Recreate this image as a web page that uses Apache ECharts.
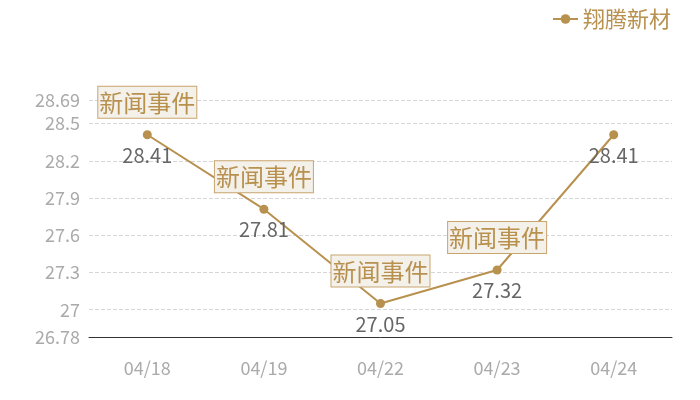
<!DOCTYPE html>
<html>
<head>
	<meta charset="utf-8">
	<title>ECharts</title>
	<script src="https://cdn.jsdelivr.net/npm/echarts@6/dist/echarts.min.js"></script>
	<style type="text/css">
		html, body { height: 100%; margin: 0; background: #fff; }
	</style>
</head>
<body>
	<div id="main" style="width: 700px;height:400px;"></div>
	<script type="text/javascript">
	// 数据
	var dates = ['04/18', '04/19', '04/22', '04/23', '04/24'];
	var prices = [28.41, 27.81, 27.05, 27.32, 28.41];
	var eventIdx = [0, 1, 2, 3];   // 有新闻事件的日期
	var yMin = 26.78;
	var yMax = 28.69;

	var gold = '#b8914f';
	var font = 'Noto Sans CJK SC';

	var eventPoints = [];
	for (var i = 0; i < eventIdx.length; i++) {
		var k = eventIdx[i];
		eventPoints.push({ coord: [dates[k], prices[k]], value: '新闻事件' });
	}

	var myChart = echarts.init(document.getElementById('main'));
	var option = {
		animation: false,
		textStyle: { fontFamily: font },
		legend: {
			data: ['翔腾新材'],
			right: 24,
			top: 3,
			itemWidth: 25,
			itemHeight: 12,
			itemGap: 6,
			textStyle: { color: gold, fontSize: 22, fontFamily: font }
		},
		grid: { left: 89, right: 28, top: 100, bottom: 63 },
		xAxis: {
			type: 'category',
			data: dates,
			axisLine: { lineStyle: { color: '#333' } },
			axisTick: { show: false },
			axisLabel: { color: '#aaa', fontSize: 18, margin: 22 }
		},
		yAxis: {
			type: 'value',
			min: yMin,
			max: yMax,
			axisLine: { show: false },
			axisTick: { show: false },
			axisLabel: { color: '#aaa', fontSize: 18, margin: 9 },
			splitLine: { lineStyle: { color: '#d6d6d6', type: 'dashed' } }
		},
		series: [{
			name: '翔腾新材',
			type: 'line',
			data: prices,
			symbol: 'circle',
			symbolSize: 9,
			itemStyle: { color: gold },
			lineStyle: { color: gold, width: 2 },
			label: {
				show: true,
				position: 'bottom',
				distance: 6,
				color: '#666',
				fontSize: 20
			},
			markPoint: {
				symbol: 'circle',
				symbolSize: 0,
				label: {
					show: true,
					position: 'top',
					distance: 17,
					formatter: '{c}',
					color: gold,
					fontSize: 24,
					fontFamily: font,
					backgroundColor: '#f4f0ea',
					borderColor: '#c9a56e',
					borderWidth: 1,
					padding: [4, 1, 3, 1]
				},
				data: eventPoints
			}
		}]
	};
	myChart.setOption(option);
	</script>
</body>
</html>
